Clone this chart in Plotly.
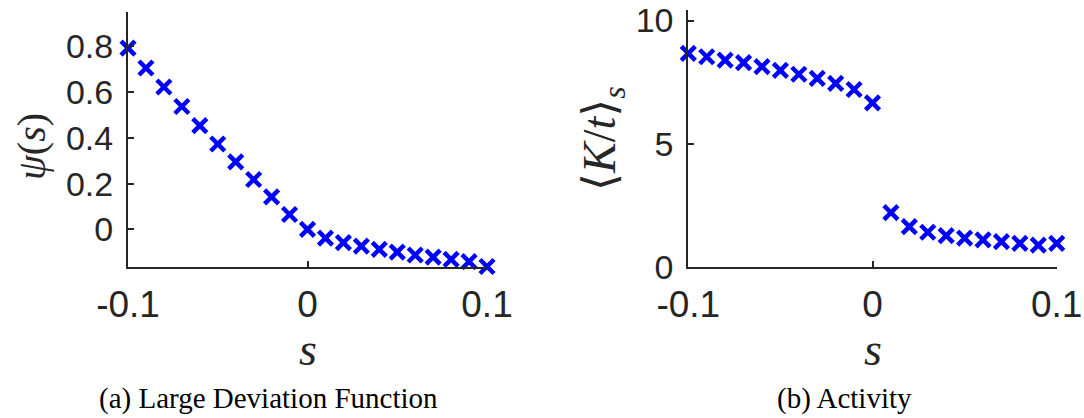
import plotly.graph_objects as go

# ---- data ----
s_vals = [-0.10, -0.09, -0.08, -0.07, -0.06, -0.05, -0.04, -0.03, -0.02, -0.01,
          0.00, 0.01, 0.02, 0.03, 0.04, 0.05, 0.06, 0.07, 0.08, 0.09, 0.10]
psi_vals = [0.792, 0.705, 0.622, 0.537, 0.453, 0.373, 0.295, 0.218, 0.142, 0.065,
            0.000, -0.038, -0.058, -0.073, -0.087, -0.099, -0.112, -0.121, -0.131, -0.141, -0.162]
activity_vals = [8.67, 8.53, 8.39, 8.29, 8.13, 7.98, 7.82, 7.65, 7.45, 7.20,
                 6.66, 2.20, 1.63, 1.40, 1.26, 1.16, 1.09, 1.02, 0.95, 0.88, 0.95]

x_ticks = [-0.1, 0, 0.1]
x_ticklabels = ["-0.1", "0", "0.1"]
psi_ticks = [0, 0.2, 0.4, 0.6, 0.8]
psi_ticklabels = ["0", "0.2", "0.4", "0.6", "0.8"]
act_ticks = [0, 5, 10]
act_ticklabels = ["0", "5", "10"]

captions = ["(a) Large Deviation Function", "(b) Activity"]

W, H = 1084, 418
AX = "#262626"
BLUE = "#0000ff"
TICKFONT = "Arial, Liberation Sans, Helvetica, sans-serif"
SERIF = "Liberation Serif, DejaVu Serif, serif"

def px(x):
    return x / W

def py(y):
    return 1 - y / H

marker = dict(symbol="x-thin", size=14, color=BLUE, line=dict(color=BLUE, width=4.5))

fig = go.Figure()
fig.add_trace(go.Scatter(x=s_vals, y=psi_vals, mode="markers", marker=marker,
                         xaxis="x", yaxis="y", cliponaxis=False, showlegend=False))
fig.add_trace(go.Scatter(x=s_vals, y=activity_vals, mode="markers", marker=marker,
                         xaxis="x2", yaxis="y2", cliponaxis=False, showlegend=False))

common_x = dict(range=[-0.1, 0.1], tickvals=x_ticks, ticktext=x_ticklabels,
                showline=True, linecolor=AX, linewidth=2, ticks="inside", ticklen=6,
                tickwidth=2, tickcolor=AX, showgrid=False, zeroline=False, automargin=False,
                ticklabeloverflow="allow",
                tickfont=dict(family=TICKFONT, size=37, color=AX), ticklabelstandoff=4)
common_y = dict(showline=True, linecolor=AX, linewidth=2, ticks="inside", ticklen=6,
                tickwidth=2, tickcolor=AX, showgrid=False, zeroline=False, automargin=False,
                ticklabeloverflow="allow",
                tickfont=dict(family=TICKFONT, size=34, color=AX), ticklabelstandoff=6)

fig.update_layout(
    width=W, height=H,
    margin=dict(l=0, r=0, t=0, b=0, autoexpand=False),
    paper_bgcolor="white", plot_bgcolor="white",
    xaxis=dict(domain=[px(128), px(487)], anchor="y", **common_x),
    yaxis=dict(domain=[py(266.7), py(11.7)], anchor="x", range=[-0.163, 0.951],
               tickvals=psi_ticks, ticktext=psi_ticklabels, **common_y),
    xaxis2=dict(domain=[px(688.3), px(1056.7)], anchor="y2", **common_x),
    yaxis2=dict(domain=[py(266.7), py(10)], anchor="x2", range=[0, 10.43],
                tickvals=act_ticks, ticktext=act_ticklabels, **common_y),
)

ann = []
# y labels
ann.append(dict(x=px(31), y=py(147), xref="paper", yref="paper", showarrow=False,
                text="<i>ψ</i>(<i>s</i>)", textangle=-90,
                font=dict(family=SERIF, size=40, color=AX), xanchor="center", yanchor="middle"))
ann.append(dict(x=px(603), y=py(139), xref="paper", yref="paper", showarrow=False,
                text="⟨<i>K</i>/<i>t</i>⟩<sub><i>s</i></sub>", textangle=-90,
                font=dict(family=SERIF, size=46, color=AX), xanchor="center", yanchor="middle"))
# x labels
for xc in (307.5, 873):
    ann.append(dict(x=px(xc), y=py(349), xref="paper", yref="paper", showarrow=False,
                    text="<i>s</i>", font=dict(family=SERIF, size=46, color=AX),
                    xanchor="center", yanchor="middle"))
# captions
for xc, txt in zip((268, 844), captions):
    ann.append(dict(x=px(xc), y=py(398), xref="paper", yref="paper", showarrow=False,
                    text=txt, font=dict(family=SERIF, size=29, color="black"),
                    xanchor="center", yanchor="middle"))
fig.update_layout(annotations=ann)

# remove the browser's default 8px body margin so the figure fills the window
fig.write_html("out.html", config={"displayModeBar": False},
               post_script="document.body.style.margin='0';")
